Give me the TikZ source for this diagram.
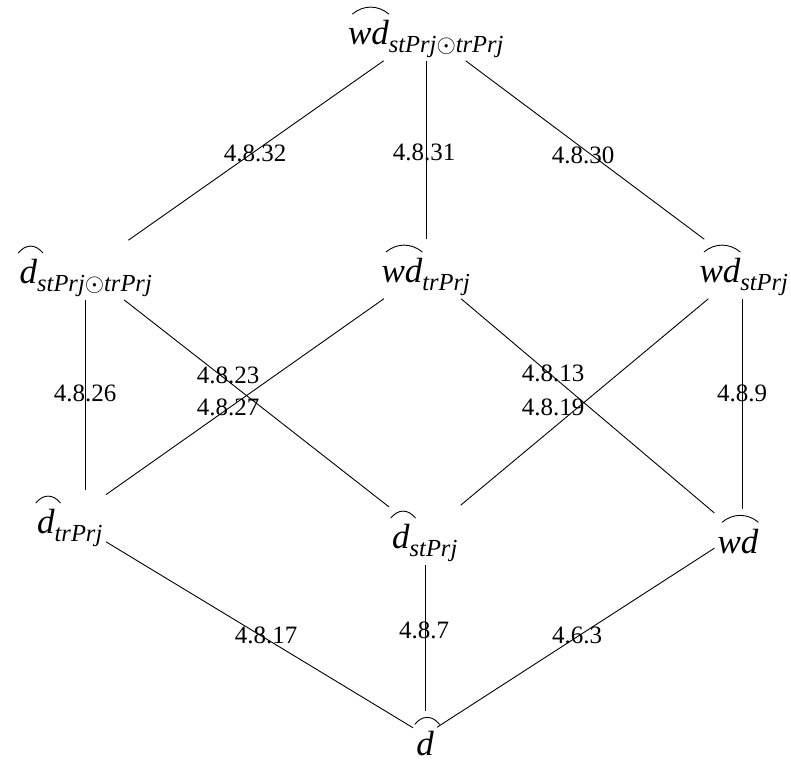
\documentclass[tikz,border=0pt]{standalone}
\usepackage{amsmath}
\usepackage{fontspec}
\setmainfont{Liberation Serif}
\newcommand{\myit}[1]{\text{\itshape #1}}
\newlength{\hatw}
\newlength{\hatl}
\newcommand{\arch}[1]{\settowidth{\hatw}{$#1$}%
  \setlength{\hatl}{0.5\hatw}\addtolength{\hatl}{0.45em}%
  \rlap{\hspace{\dimexpr 0.5\hatw-0.5\hatl+0.05em\relax}\raisebox{0.88em}{\tikz[baseline=0pt]\draw[line width=0.9pt,line cap=round] (0,0) .. controls (0.3\hatl,0.26em) and (0.7\hatl,0.26em) .. (\hatl,0);}}#1}
\begin{document}
\begin{tikzpicture}[x=1pt,y=-1pt,
  term/.style={inner sep=3pt, font=\fontsize{35}{40}\selectfont},
  lbl/.style={inner sep=0pt, font=\fontsize{25}{30}\selectfont},
  edge/.style={line width=0.9pt}]
\useasboundingbox (0,0) rectangle (791,762);
\node[term] (top)  at (426,31)  {$\arch{\myit{wd}}_{\myit{stPrj}\odot\myit{trPrj}}$};
\node[term] (dst)  at (86,270)  {$\arch{\myit{d}}_{\myit{stPrj}\odot\myit{trPrj}}$};
\node[term] (wdtr) at (426,269) {$\arch{\myit{wd}}_{\myit{trPrj}}$};
\node[term] (wdst) at (744,269) {$\arch{\myit{wd}}_{\myit{stPrj}}$};
\node[term] (dtr)  at (70,520)  {$\arch{\myit{d}}_{\myit{trPrj}}$};
\node[term] (dsp)  at (425,535) {$\arch{\myit{d}}_{\myit{stPrj}}$};
\node[term] (wd)   at (738,533) {$\arch{\myit{wd}}$};
\node[term] (d)    at (425,735) {$\arch{\myit{d}}$};
\node[lbl] (l32) at (255,153) {4.8.32};
\node[lbl] (l31) at (424,152) {4.8.31};
\node[lbl] (l30) at (583,155) {4.8.30};
\node[lbl] (l26) at (85,393) {4.8.26};
\node[lbl] (l9)  at (742,393) {4.8.9};
\node[lbl] (l23) at (228,375) {4.8.23};
\node[lbl] (l27) at (228,407) {4.8.27};
\node[lbl] (l13) at (553,373) {4.8.13};
\node[lbl] (l19) at (553,407) {4.8.19};
\node[lbl] (l17) at (266,635) {4.8.17};
\node[lbl] (l7)  at (424,630) {4.8.7};
\node[lbl] (l63) at (577,635) {4.6.3};
\draw[edge] (top) -- (dst);
\draw[edge] (top) -- (wdtr);
\draw[edge] (top) -- (wdst);
\draw[edge] (l26.center |- dst.south) -- (l26.center |- dtr.north);
\draw[edge] (dst) -- (dsp);
\draw[edge] (wdtr) -- (dtr);
\draw[edge] (wdtr) -- (wd);
\draw[edge] (wdst) -- (dsp);
\draw[edge] (l9.center |- wdst.south) -- (l9.center |- wd.north);
\draw[edge] (dtr) -- (d);
\draw[edge] (dsp) -- (d);
\draw[edge] (wd) -- (d);
\end{tikzpicture}
\end{document}
